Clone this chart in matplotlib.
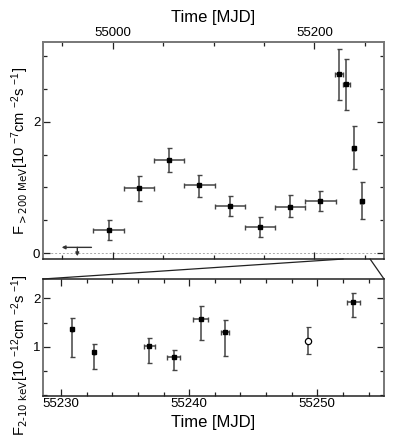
"""Gamma-ray (>200 MeV) light curve with X-ray (2-10 keV) zoom panel."""
import numpy as np
import matplotlib.pyplot as plt
from matplotlib.patches import ConnectionPatch
from matplotlib.ticker import MultipleLocator, FixedLocator

plt.rcParams['font.family'] = ['Liberation Sans', 'DejaVu Sans']
plt.rcParams['mathtext.default'] = 'regular'
plt.rcParams['xtick.direction'] = 'in'
plt.rcParams['ytick.direction'] = 'in'

# Fermi-LAT >200 MeV fluxes [1e-7 cm^-2 s^-1]
lat_t = [54996, 55026, 55056, 55086, 55116, 55146, 55176, 55206,
         55224.3, 55231.5, 55239.1, 55246.7]
lat_dt = [15, 15, 15, 15, 15, 15, 15, 15, 4, 3.5, 1.5, 1.5]
lat_f = [0.35, 0.99, 1.42, 1.03, 0.72, 0.40, 0.71, 0.79, 2.72, 2.57, 1.60, 0.79]
lat_lo = [0.15, 0.19, 0.18, 0.17, 0.15, 0.16, 0.16, 0.15, 0.39, 0.39, 0.32, 0.27]
lat_hi = [0.15, 0.18, 0.18, 0.16, 0.15, 0.15, 0.17, 0.15, 0.38, 0.38, 0.34, 0.29]
ul_t, ul_f, ul_left, ul_right = 54965, 0.09, 54949.5, 54979

# X-ray 2-10 keV fluxes [1e-12 erg cm^-2 s^-1]
xr_t = [55230.9, 55232.6, 55236.9, 55238.8, 55240.9, 55242.8, 55252.8]
xr_dt = [0, 0, 0.4, 0.5, 0.6, 0.3, 0.5]
xr_f = [1.37, 0.90, 1.01, 0.78, 1.57, 1.30, 1.93]
xr_lo = [0.58, 0.35, 0.34, 0.25, 0.42, 0.49, 0.32]
xr_hi = [0.23, 0.16, 0.18, 0.15, 0.27, 0.25, 0.18]
open_t, open_f, open_lo, open_hi = 55249.3, 1.12, 0.26, 0.28

fig = plt.figure(figsize=(3.99, 4.37), dpi=100)
ax1 = fig.add_axes([0.1078, 0.4073, 0.8546, 0.4966])
ax2 = fig.add_axes([0.1078, 0.0945, 0.8546, 0.2671])

ekw = dict(fmt='s', color='black', ms=3.5, ecolor='#444444', elinewidth=1.1,
           capsize=1.8, capthick=1.0)

ax1.errorbar(lat_t, lat_f, xerr=lat_dt, yerr=[lat_lo, lat_hi], **ekw)
ax1.axhline(0, color='#aaaaaa', ls=(0, (2, 2)), lw=0.7, zorder=0)
ax1.annotate('', xy=(ul_left, ul_f), xytext=(ul_right, ul_f),
             arrowprops=dict(arrowstyle='-|>', color='#333333', lw=1.0,
                             mutation_scale=5, shrinkA=0, shrinkB=0))
ax1.annotate('', xy=(ul_t, -0.045), xytext=(ul_t, ul_f),
             arrowprops=dict(arrowstyle='-|>', color='#333333', lw=1.0,
                             mutation_scale=5, shrinkA=0, shrinkB=0))
ax1.set_xlim(54931, 55269)
ax1.set_ylim(-0.087, 3.21)
ax1.xaxis.set_major_locator(MultipleLocator(200))
ax1.xaxis.set_minor_locator(MultipleLocator(50))
ax1.yaxis.set_major_locator(MultipleLocator(2))
ax1.yaxis.set_minor_locator(MultipleLocator(0.5))
ax1.xaxis.tick_top()
ax1.xaxis.set_label_position('top')
ax1.set_xlabel('Time [MJD]', fontsize=12, labelpad=4)
ax1.set_ylabel(r'$F_{\mathsf{>200\ MeV}}$[10 $^{-7}$cm $^{-2}$s $^{-1}$]',
               fontsize=10.5)
ax1.yaxis.set_label_coords(-0.035, 0.5)

ax2.errorbar(xr_t, xr_f, xerr=xr_dt, yerr=[xr_lo, xr_hi], **ekw)
ax2.errorbar([open_t], [open_f], yerr=[[open_lo], [open_hi]], fmt='o',
             mfc='white', mec='black', ms=4.5, mew=0.9, ecolor='#444444',
             elinewidth=1.1, capsize=1.8, capthick=1.0)
ax2.set_xlim(55228.6, 55255.2)
ax2.set_ylim(-0.01, 2.4)
ax2.xaxis.set_major_locator(MultipleLocator(10))
ax2.xaxis.set_minor_locator(MultipleLocator(2))
ax2.yaxis.set_major_locator(FixedLocator([1, 2]))
ax2.yaxis.set_minor_locator(MultipleLocator(0.5))
ax2.set_xlabel('Time [MJD]', fontsize=12, labelpad=3)
ax2.set_ylabel(r'$F_{\mathsf{2\text{-}10\ keV}}$[10 $^{-12}$cm $^{-2}$s $^{-1}$]',
               fontsize=10.5)
ax2.yaxis.set_label_coords(-0.035, 0.35)

for ax in (ax1, ax2):
    ax.tick_params(which='both', top=True, bottom=True, left=True, right=True,
                   labelsize=9.5, width=0.9, color='#222222', pad=2)
    ax.tick_params(which='major', length=5)
    ax.tick_params(which='minor', length=3)
    for side in ('left', 'right', 'top'):
        ax.spines[side].set_color('#777777')
        ax.spines[side].set_linewidth(1.4)
    ax.spines['bottom'].set_color('#222222')
    ax.spines['bottom'].set_linewidth(1.1)
ax2.spines['top'].set_color('#222222')
ax2.spines['top'].set_linewidth(1.1)

# zoom lines connecting the X-ray window to the upper panel
lo, hi = ax2.get_xlim()
for xa, xb in ((lo, 0), (hi, 1)):
    con = ConnectionPatch(xyA=(xa, ax1.get_ylim()[0]), coordsA=ax1.transData,
                          xyB=(xb, 1), coordsB=ax2.transAxes,
                          color='#222222', lw=0.9)
    fig.add_artist(con)

fig.savefig('out.png', dpi=100)
